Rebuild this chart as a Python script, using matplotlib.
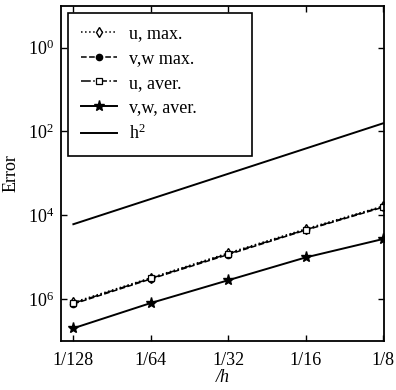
# Error convergence plot: max and average errors against 1/h

import matplotlib.pyplot as plt
from matplotlib.ticker import FixedLocator, FixedFormatter, NullLocator

# --------------------------------------------------------------------
# Data
# --------------------------------------------------------------------

h = [1 / 128, 1 / 64, 1 / 32, 1 / 16, 1 / 8]
h_labels = ["1/128", "1/64", "1/32", "1/16", "1/8"]

u_max = [8.3e-7, 3.2e-6, 1.25e-5, 4.7e-5, 1.65e-4]
vw_max = [7.6e-7, 3.0e-6, 1.15e-5, 4.4e-5, 1.55e-4]
u_aver = [7.9e-7, 3.1e-6, 1.2e-5, 4.5e-5, 1.6e-4]
vw_aver = [2.0e-7, 8.0e-7, 2.8e-6, 9.8e-6, 2.7e-5]
h_sq = [x ** 2 for x in h]

y_ticks = [1e0, 1e-2, 1e-4, 1e-6]
y_labels = ["$10^{0}$", "$10^{2}$", "$10^{4}$", "$10^{6}$"]

# --------------------------------------------------------------------
# Style
# --------------------------------------------------------------------

plt.rcParams["font.family"] = ["Liberation Serif", "DejaVu Serif"]
plt.rcParams["mathtext.fontset"] = "custom"
plt.rcParams["mathtext.rm"] = "Liberation Serif"
plt.rcParams["mathtext.it"] = "Liberation Serif:italic"
plt.rcParams["font.size"] = 12

fig = plt.figure(figsize=(3.96, 3.90), dpi=100)
ax = fig.add_axes([0.154, 0.126, 0.816, 0.859])

lw = 1.1
ax.plot(h, u_max, linestyle=":", color="black", lw=lw, marker="d",
        markersize=5, markerfacecolor="white", markeredgewidth=1.0,
        label="u, max.")
ax.plot(h, vw_max, linestyle="--", color="black", lw=lw, marker="o",
        markersize=4.5, label="v,w max.")
ax.plot(h, u_aver, linestyle="-.", color="black", lw=lw, marker="s",
        markersize=4, markerfacecolor="white", markeredgewidth=0.9,
        label="u, aver.")
ax.plot(h, vw_aver, linestyle="-", color="black", lw=1.4, marker="*",
        markersize=8, label="v,w, aver.")
ax.plot(h, h_sq, linestyle="-", color="black", lw=1.4, label="h$^2$")

ax.set_xscale("log", base=2)
ax.set_yscale("log")
ax.set_xlim(2 ** (-7.16), 2 ** (-2.985))
ax.set_ylim(1e-7, 1e1)

ax.xaxis.set_major_locator(FixedLocator(h))
ax.xaxis.set_major_formatter(FixedFormatter(h_labels))
ax.xaxis.set_minor_locator(NullLocator())
ax.yaxis.set_major_locator(FixedLocator(y_ticks))
ax.yaxis.set_major_formatter(FixedFormatter(y_labels))
ax.yaxis.set_minor_locator(NullLocator())

ax.tick_params(direction="in", top=True, right=True, length=4, width=1.0,
               labelsize=13)
ax.tick_params(axis="x", pad=8)
ax.tick_params(axis="y", pad=5)
for spine in ax.spines.values():
    spine.set_linewidth(1.3)

ax.set_xlabel("/h", fontstyle="italic", fontsize=13, labelpad=0)
ax.set_ylabel("Error", fontsize=13, labelpad=6)

# legend box spans a fixed width in the upper left corner
leg = ax.legend(loc="upper left", bbox_to_anchor=(0.022, 0.5, 0.57, 0.479),
                mode="expand", borderaxespad=0, fontsize=13, frameon=True,
                fancybox=False, edgecolor="black", framealpha=1,
                handlelength=2.0, handletextpad=0.7, labelspacing=0.42,
                borderpad=0.7)
leg.get_frame().set_linewidth(1.2)

fig.savefig("out.png", dpi=100)
